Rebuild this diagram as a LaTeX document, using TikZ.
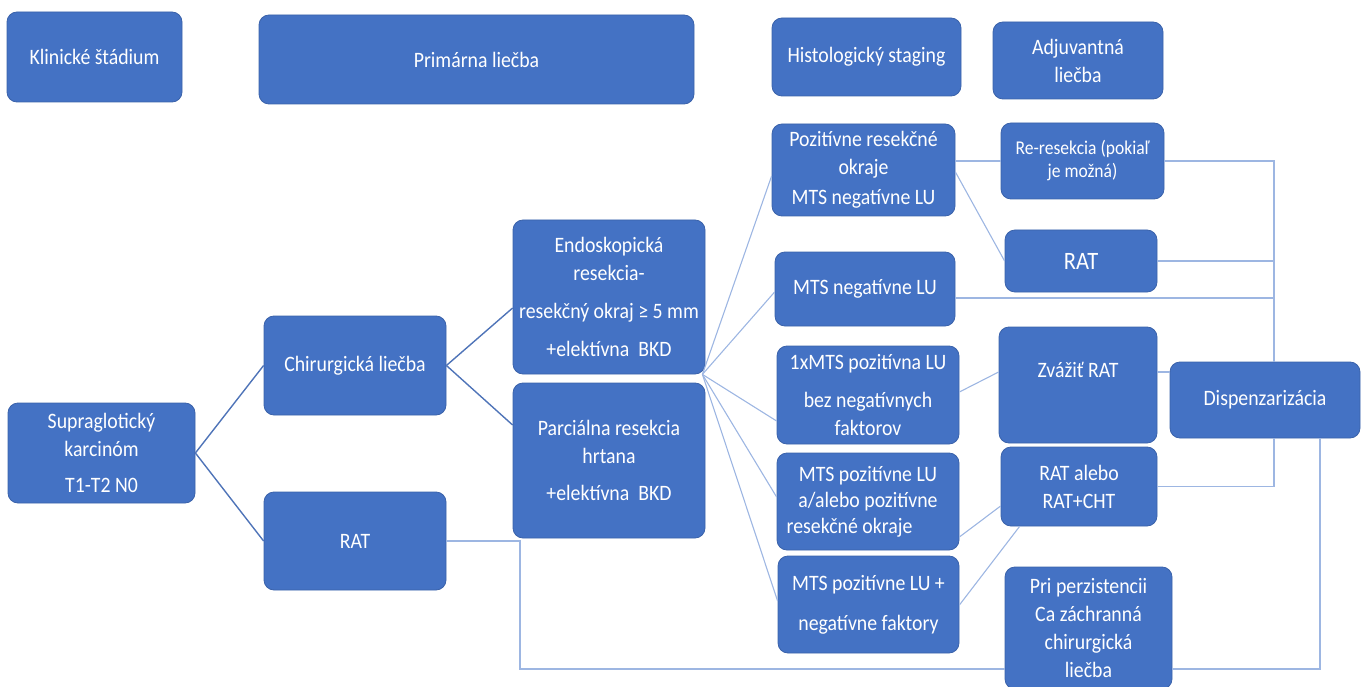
\documentclass[tikz,border=0pt]{standalone}
\usepackage{fontspec}
\newfontfamily\cf[FakeStretch=0.9]{Carlito}
\definecolor{boxfill}{HTML}{4472C4}
\definecolor{boxdraw}{HTML}{3A62AA}
\definecolor{darkline}{HTML}{4F74B8}
\definecolor{lightline}{HTML}{9DB6E2}
\begin{document}
\begin{tikzpicture}[x=1pt,y=-1pt,
  box/.style={rectangle, rounded corners=10pt, fill=boxfill, draw=boxdraw, line width=0.8pt,
    text=white, align=center, inner sep=0pt, font=\cf\fontsize{22}{28}\selectfont},
  smalltext/.style={font=\cf\fontsize{19.5}{23}\selectfont},
  bigtext/.style={font=\cf\fontsize{25}{30}\selectfont},
  dk/.style={draw=darkline, line width=1.4pt},
  lt/.style={draw=lightline, line width=1.1pt}]
\useasboundingbox (0,0) rectangle (1368,687);

% header
\node[box, minimum width=175pt, minimum height=90pt] (klin) at (94.5,57) {Klinické štádium};
\node[box, minimum width=435pt, minimum height=89pt] (prim) at (476.5,59.5) {Primárna liečba};
\node[box, minimum width=189pt, minimum height=78pt] (hist) at (866.5,57) {Histologický staging};
\node[box, minimum width=170pt, minimum height=77pt] (adj) at (1078,60.5) {Adjuvantná\\liečba};

% left
\node[box, minimum width=187pt, minimum height=100pt] (supra) at (101.5,453) {Supraglotický\\karcinóm\\[8pt]T1-T2 N0};
\node[box, minimum width=182pt, minimum height=99pt] (chir) at (355,365.5) {Chirurgická liečba};
\node[box, minimum width=182pt, minimum height=98pt] (rat1) at (355,541) {RAT};

% middle
\node[box, minimum width=192pt, minimum height=154pt] (endo) at (609,297) {Endoskopická\\resekcia-\\[10pt]resekčný okraj ≥ 5 mm\\[10pt]+elektívna\ \ BKD};
\node[box, minimum width=192pt, minimum height=155pt] (parc) at (609,460.5) {Parciálna resekcia\\hrtana\\[9pt]+elektívna\ \ BKD};

% histology
\node[box, minimum width=183pt, minimum height=92pt] (poz) at (863.5,170) {Pozitívne resekčné\\okraje\\[2pt]MTS negatívne LU};
\node[box, minimum width=180pt, minimum height=74pt] (mneg) at (865,289) {MTS negatívne LU};
\node[box, minimum width=182pt, minimum height=98pt] (one) at (868,395) {1xMTS pozitívna LU\\[10pt]bez negatívnych\\faktorov};
\node[box, minimum width=182pt, minimum height=97pt] (mpoz) at (868,501.5) {MTS pozitívne LU\\[-2pt]a/alebo pozitívne\\[-2pt]resekčné okraje\hspace*{37pt}};
\node[box, minimum width=181pt, minimum height=97pt] (mposneg) at (868.5,604.5) {MTS pozitívne LU +\\[12pt]negatívne faktory};

% adjuvant
\node[box, smalltext, minimum width=163pt, minimum height=76pt] (rer) at (1082.5,161) {Re-resekcia (pokiaľ\\je možná)};
\node[box, bigtext, minimum width=152pt, minimum height=62pt] (rat2) at (1081,261) {RAT};
\node[box, minimum width=158pt, minimum height=116pt, text depth=30pt] (zvaz) at (1078,385) {Zvážiť RAT};
\node[box, minimum width=156pt, minimum height=79pt] (ratal) at (1079,486.5) {RAT alebo\\RAT+CHT};
\node[box, minimum width=167pt, minimum height=122pt] (pri) at (1088.5,628) {Pri perzistencii\\Ca záchranná\\chirurgická\\liečba};
\node[box, minimum width=190pt, minimum height=76pt] (disp) at (1265,400) {Dispenzarizácia};

% helper coordinates
\coordinate (fan) at ([xshift=-3pt]endo.south east);
\coordinate (bus) at (1274,300);
\coordinate (rbend) at (520,541);

% dark connectors
\draw[dk] (supra.east) -- (chir.west);
\draw[dk] (supra.east) -- (rat1.west);
\draw[dk] (chir.east) -- ([yshift=-11pt]endo.west);
\draw[dk] (chir.east) -- ([yshift=35.5pt]parc.west);

% fan
\draw[lt] (fan) -- ([yshift=-6pt]poz.west);
\draw[lt] (fan) -- ([yshift=-3pt]mneg.west);
\draw[lt] (fan) -- ([yshift=-26pt]one.west);
\draw[lt] (fan) -- ([yshift=4.5pt]mpoz.west);
\draw[lt] (fan) -- ([yshift=3.5pt]mposneg.west);

% histology -> adjuvant
\draw[lt] (poz.east |- rer.west) -- (rer.west);
\draw[lt] ([yshift=-2pt]poz.east) -- (rat2.west);
\draw[lt] ([yshift=3pt]one.east) -- ([yshift=13pt]zvaz.west);
\draw[lt] ([yshift=-35.5pt]mpoz.east) -- ([yshift=-19.5pt]ratal.west);
\draw[lt] ([yshift=-0.5pt]mposneg.east) -- ([xshift=19pt]ratal.south west);

% to Dispenzarizacia
\draw[lt] (rer.east) -| (bus |- disp.north);
\draw[lt] (rat2.east) -- (rat2.east -| bus);
\draw[lt] ([yshift=-9pt]mneg.east) -- ([yshift=-9pt]mneg.east -| bus);
\draw[lt] ([yshift=13pt]zvaz.east) -- ([yshift=13pt]zvaz.east -| disp.west);
\draw[lt] (ratal.east) -| (bus |- disp.south);
\draw[lt] ([xshift=55pt]disp.south) |- ([yshift=-41pt]pri.east);

% RAT -> salvage
\draw[lt] (rat1.east) -- (rbend) |- ([yshift=-41pt]pri.west);
\end{tikzpicture}
\end{document}
